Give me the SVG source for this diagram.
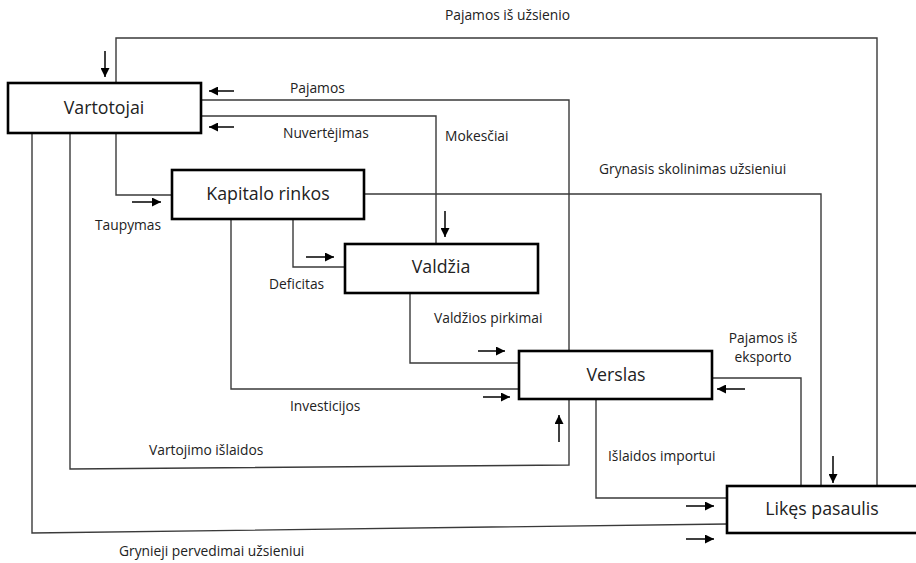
<svg xmlns="http://www.w3.org/2000/svg" width="916" height="563" viewBox="0 0 916 563">
<style>
.box{fill:#fff;stroke:#000;stroke-width:2.6}
.nt{font-family:"Open Sans","Noto Sans",sans-serif;font-size:17.8px;fill:#222;text-anchor:middle}
.lb{font-family:"Open Sans","Noto Sans",sans-serif;font-size:13.8px;fill:#222}
.cn{fill:none;stroke:#3a3a3a;stroke-width:1.4}
.ar{stroke:#000;stroke-width:1.5;fill:none;marker-end:url(#ah)}
</style>
<defs>
<marker id="ah" viewBox="0 0 10 10" refX="10" refY="5" markerWidth="9" markerHeight="9" markerUnits="userSpaceOnUse" orient="auto">
<path d="M0,0 L10,5 L0,10 z" fill="#000"/>
</marker>
</defs>
<rect width="916" height="563" fill="#fff"/>
<g id="connectors">
<polyline class="cn" points="116,83 116,38 877,38 877,486"/>
<polyline class="cn" points="201,100 569,100 569,351"/>
<polyline class="cn" points="201,116 436,116 436,244"/>
<polyline class="cn" points="116,133 116,195 172,195"/>
<polyline class="cn" points="364,194 821,194 821,486"/>
<polyline class="cn" points="293,219 293,267 345,267"/>
<polyline class="cn" points="231,219 231,389 519,389"/>
<polyline class="cn" points="410,293 410,363 519,363"/>
<polyline class="cn" points="70,133 70,469 569,465 569,399"/>
<polyline class="cn" points="32,133 32,533 727,524"/>
<polyline class="cn" points="596,399 596,498 727,498"/>
<polyline class="cn" points="712,378 801,378 801,486"/>
<line class="ar" x1="105" y1="51" x2="105" y2="77"/>
<line class="ar" x1="234" y1="91" x2="209" y2="91"/>
<line class="ar" x1="234" y1="127" x2="209" y2="127"/>
<line class="ar" x1="132" y1="202" x2="161" y2="202"/>
<line class="ar" x1="445" y1="211" x2="445" y2="237"/>
<line class="ar" x1="306" y1="257" x2="334" y2="257"/>
<line class="ar" x1="478" y1="351" x2="505" y2="351"/>
<line class="ar" x1="483" y1="397" x2="510" y2="397"/>
<line class="ar" x1="559" y1="442" x2="559" y2="415"/>
<line class="ar" x1="745" y1="389" x2="717" y2="389"/>
<line class="ar" x1="833" y1="456" x2="833" y2="483"/>
<line class="ar" x1="686" y1="506" x2="714" y2="506"/>
<line class="ar" x1="686" y1="539" x2="714" y2="539"/>
<text class="lb" x="445" y="20">Pajamos iš užsienio</text>
<text class="lb" x="290" y="93">Pajamos</text>
<text class="lb" x="283" y="138">Nuvertėjimas</text>
<text class="lb" x="445" y="141">Mokesčiai</text>
<text class="lb" x="599" y="174">Grynasis skolinimas užsieniui</text>
<text class="lb" x="95" y="230">Taupymas</text>
<text class="lb" x="269" y="289">Deficitas</text>
<text class="lb" x="434" y="323">Valdžios pirkimai</text>
<text class="lb" x="290" y="411">Investicijos</text>
<text class="lb" x="149" y="455">Vartojimo išlaidos</text>
<text class="lb" x="608" y="461">Išlaidos importui</text>
<text class="lb" x="763" y="343" text-anchor="middle">Pajamos iš</text>
<text class="lb" x="763" y="362" text-anchor="middle">eksporto</text>
<text class="lb" x="119" y="556">Grynieji pervedimai užsieniui</text>
</g>
<g id="vartotojai">
<rect class="box" x="8" y="83" width="193" height="50"/>
<text class="nt" x="104" y="114">Vartotojai</text>
</g>
<g id="kapitalo-rinkos">
<rect class="box" x="172" y="170" width="192" height="49"/>
<text class="nt" x="268" y="200">Kapitalo rinkos</text>
</g>
<g id="valdzia">
<rect class="box" x="345" y="244" width="193" height="49"/>
<text class="nt" x="441" y="273">Valdžia</text>
</g>
<g id="verslas">
<rect class="box" x="519" y="351" width="193" height="48"/>
<text class="nt" x="616" y="381">Verslas</text>
</g>
<g id="likes-pasaulis">
<rect class="box" x="727" y="486" width="200" height="47"/>
<text class="nt" x="822" y="515">Likęs pasaulis</text>
</g>
</svg>
